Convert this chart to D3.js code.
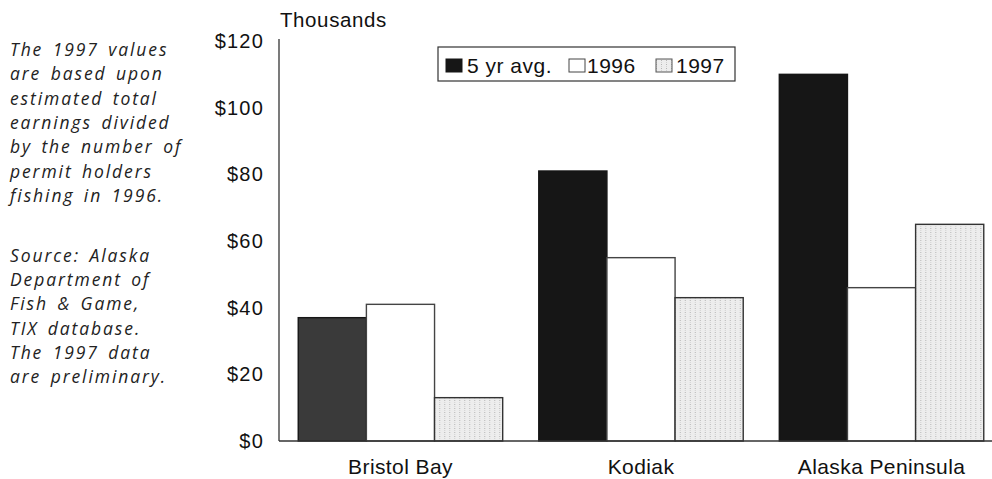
<!DOCTYPE html>
<html>
<head>
<meta charset="utf-8">
<script src="https://cdn.jsdelivr.net/npm/d3@7"></script>
<style>
  html, body { margin: 0; padding: 0; background: #fff; }
  svg { display: block; }
</style>
</head>
<body>
<svg id="chart" width="992" height="479"></svg>
<script>
// Fishery regions and series
const categories = ["Bristol Bay", "Kodiak", "Alaska Peninsula"];
const seriesNames = ["5 yr avg.", "1996", "1997"];
const avg5yr = [37, 81, 110];
const values1996 = [41, 55, 46];
const values1997 = [13, 43, 65];
const yTicks = [0, 20, 40, 60, 80, 100, 120];

const noteLines = [
  "The 1997 values", "are based upon", "estimated total", "earnings divided",
  "by the number of", "permit holders", "fishing in 1996."
];
const sourceLines = [
  "Source: Alaska", "Department of", "Fish & Game,", "TIX database.",
  "The 1997 data", "are preliminary."
];

const seriesValues = [avg5yr, values1996, values1997];
const sans = "'Liberation Sans', Arial, Helvetica, sans-serif";

const svg = d3.select("#chart");
const defs = svg.append("defs");

// stippled fill for the 1997 bars
const pat = defs.append("pattern")
  .attr("id", "stipple")
  .attr("patternUnits", "userSpaceOnUse")
  .attr("width", 5).attr("height", 4);
pat.append("rect").attr("width", 5).attr("height", 4).attr("fill", "#ededed");
pat.append("rect").attr("x", 1).attr("y", 0).attr("width", 1).attr("height", 1).attr("fill", "#b5b5b5");
pat.append("rect").attr("x", 1).attr("y", 2).attr("width", 1).attr("height", 1).attr("fill", "#d0d0d0");

const axisX = 279, baseY = 441, topY = 41;

const x0 = d3.scaleBand().domain(categories).range([axisX, 1003])
  .paddingInner(0.15).paddingOuter(0.08);
const x1 = d3.scaleBand().domain(seriesNames).range([0, x0.bandwidth()]).padding(0);
const y = d3.scaleLinear().domain([0, 120]).range([baseY, topY]);

const styles = {
  "5 yr avg.": { fill: "#161616", stroke: "#161616" },
  "1996": { fill: "#ffffff", stroke: "#444" },
  "1997": { fill: "url(#stipple)", stroke: "#333" }
};

// bars
const rows = categories.map((c, i) => ({
  cat: c,
  bars: seriesNames.map((s, j) => ({ cat: c, series: s, value: seriesValues[j][i] }))
}));

const groups = svg.append("g").selectAll("g").data(rows).join("g")
  .attr("transform", d => `translate(${x0(d.cat)},0)`);

groups.selectAll("rect").data(d => d.bars).join("rect")
  .attr("x", d => x1(d.series))
  .attr("y", d => y(d.value))
  .attr("width", x1.bandwidth())
  .attr("height", d => y(0) - y(d.value))
  .attr("fill", d => (d.series === "5 yr avg." && d.cat === "Bristol Bay") ? "#3a3a3a" : styles[d.series].fill)
  .attr("stroke", d => styles[d.series].stroke)
  .attr("stroke-width", 1.4);

// y axis
const yAxis = svg.append("g")
  .attr("transform", `translate(${axisX},0)`)
  .call(d3.axisLeft(y).tickValues(yTicks).tickSize(0).tickPadding(15).tickFormat(d => "$" + d));
yAxis.select(".domain").remove();
yAxis.selectAll("text")
  .attr("font-family", sans)
  .attr("font-size", 20)
  .attr("letter-spacing", 1.2)
  .attr("fill", "#111");

svg.append("line")
  .attr("x1", axisX).attr("x2", axisX)
  .attr("y1", topY - 2).attr("y2", baseY)
  .attr("stroke", "#333").attr("stroke-width", 1.3);

// baseline / x axis
const xAxis = svg.append("g")
  .attr("transform", `translate(0,${baseY})`)
  .call(d3.axisBottom(x0).tickSize(0).tickPadding(18));
xAxis.select(".domain").remove();
xAxis.selectAll("text")
  .attr("font-family", sans)
  .attr("font-size", 21)
  .attr("letter-spacing", 0.4)
  .attr("fill", "#111");

svg.append("line")
  .attr("x1", axisX).attr("x2", 992)
  .attr("y1", baseY).attr("y2", baseY)
  .attr("stroke", "#333").attr("stroke-width", 1.5);

// unit label
svg.append("text")
  .attr("x", 280).attr("y", 27)
  .attr("font-family", sans)
  .attr("font-size", 20.5)
  .attr("letter-spacing", 0.6)
  .attr("fill", "#111")
  .text("Thousands");

// legend
const legend = svg.append("g");
legend.append("rect")
  .attr("x", 438).attr("y", 47).attr("width", 297).attr("height", 34)
  .attr("fill", "#fff").attr("stroke", "#333").attr("stroke-width", 1.2);

const legendItems = [
  { name: seriesNames[0], sx: 446, tx: 467 },
  { name: seriesNames[1], sx: 569, tx: 587 },
  { name: seriesNames[2], sx: 656, tx: 676 }
];
legendItems.forEach(it => {
  legend.append("rect")
    .attr("x", it.sx).attr("y", 59).attr("width", 16).attr("height", 13)
    .attr("fill", styles[it.name].fill)
    .attr("stroke", it.name === "1997" ? "#555" : styles[it.name].stroke)
    .attr("stroke-width", 1);
  legend.append("text")
    .attr("x", it.tx).attr("y", 73)
    .attr("font-family", sans)
    .attr("font-size", 21)
    .attr("letter-spacing", 0.5)
    .attr("fill", "#111")
    .text(it.name);
});

// side notes
const note = svg.append("g")
  .attr("font-family", "'Open Sans', 'DejaVu Sans', sans-serif")
  .attr("font-style", "italic")
  .attr("font-size", 17.5)
  .attr("letter-spacing", 1.9)
  .attr("word-spacing", 3)
  .attr("fill", "#222");
noteLines.forEach((t, i) => {
  note.append("text").attr("x", 10).attr("y", 56 + i * 24.3).text(t);
});
sourceLines.forEach((t, i) => {
  note.append("text").attr("x", 10).attr("y", 262 + i * 24.2).text(t);
});
</script>
</body>
</html>
